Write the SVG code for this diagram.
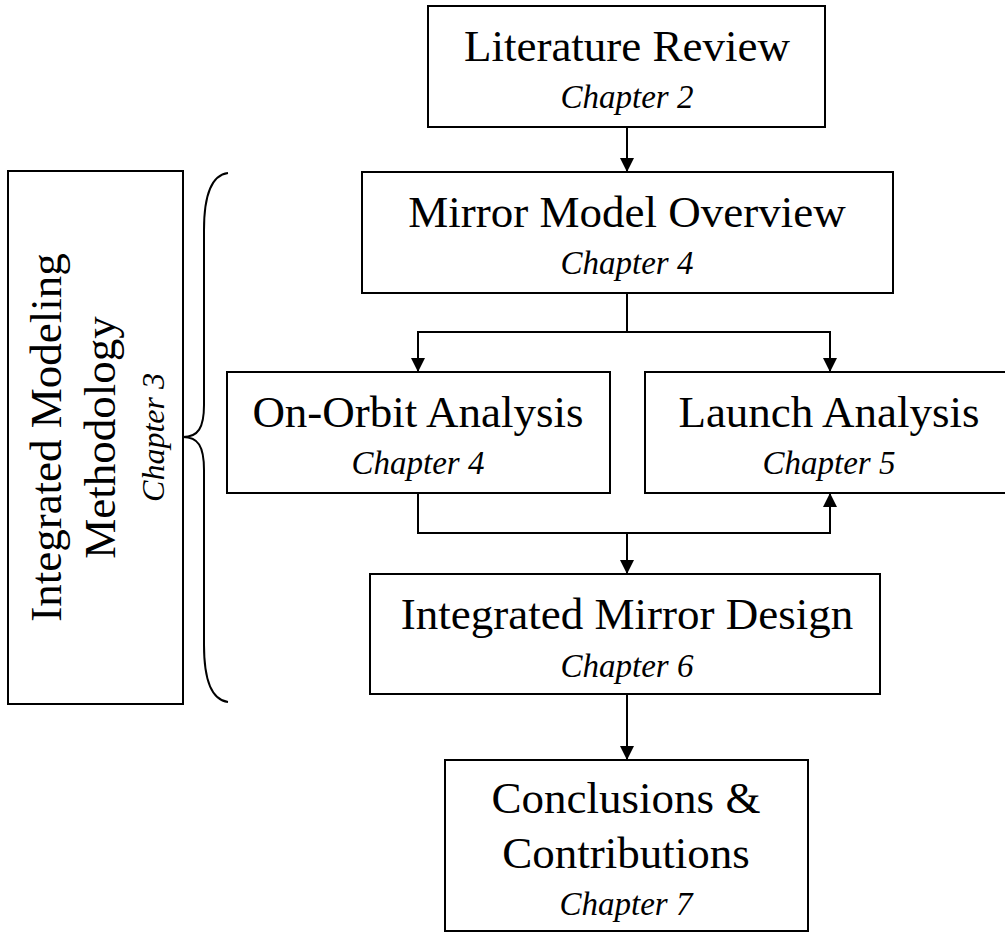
<svg xmlns="http://www.w3.org/2000/svg" width="1005" height="934" viewBox="0 0 1005 934">
<style>
.box{fill:#fff;stroke:#000;stroke-width:2}
.t{font-family:"Liberation Serif","Times New Roman",serif;font-size:45px;text-anchor:middle;fill:#000}
.c{font-family:"Liberation Serif","Times New Roman",serif;font-size:33px;font-style:italic;text-anchor:middle;fill:#000}
.ln{fill:none;stroke:#000;stroke-width:2}
</style>
<defs>
<marker id="ah" markerWidth="14" markerHeight="14" viewBox="0 0 14 14" refX="14" refY="7" orient="auto" markerUnits="userSpaceOnUse">
<path d="M0,0 L14,7 L0,14 Z" fill="#000"/>
</marker>
</defs>
<g id="connectors">
<path class="ln" d="M627,127 V172" marker-end="url(#ah)"/>
<path class="ln" d="M627,293 V332 H418 V372" marker-end="url(#ah)"/>
<path class="ln" d="M627,332 H830 V372" marker-end="url(#ah)"/>
<path class="ln" d="M418,493 V533 H830 V493" marker-end="url(#ah)"/>
<path class="ln" d="M627,533 V574" marker-end="url(#ah)"/>
<path class="ln" d="M627,694 V760" marker-end="url(#ah)"/>
</g>
<g id="literature">
<rect class="box" x="428" y="6" width="397" height="121"/>
<text class="t" x="627" y="61">Literature Review</text>
<text class="c" x="627" y="108">Chapter 2</text>
</g>
<g id="mirror-model">
<rect class="box" x="362" y="172" width="531" height="121"/>
<text class="t" x="627" y="227">Mirror Model Overview</text>
<text class="c" x="627" y="274">Chapter 4</text>
</g>
<g id="on-orbit">
<rect class="box" x="227" y="372" width="383" height="121"/>
<text class="t" x="418" y="427">On-Orbit Analysis</text>
<text class="c" x="418" y="474">Chapter 4</text>
</g>
<g id="launch">
<rect class="box" x="645" y="372" width="370" height="121"/>
<text class="t" x="829" y="427">Launch Analysis</text>
<text class="c" x="829" y="474">Chapter 5</text>
</g>
<g id="integrated-design">
<rect class="box" x="370" y="574" width="510" height="120"/>
<text class="t" x="627" y="629">Integrated Mirror Design</text>
<text class="c" x="627" y="677">Chapter 6</text>
</g>
<g id="conclusions">
<rect class="box" x="445" y="760" width="363" height="171"/>
<text class="t" x="626" y="813">Conclusions &amp;</text>
<text class="t" x="626" y="868">Contributions</text>
<text class="c" x="626" y="915">Chapter 7</text>
</g>
<g id="methodology">
<rect class="box" x="8" y="171" width="175" height="533"/>
<g transform="translate(95.5,437.5) rotate(-90)">
<text class="t" x="0" y="-34.5">Integrated Modeling</text>
<text class="t" x="0" y="19.5">Methodology</text>
<text class="c" x="0" y="68.5" style="font-size:32px">Chapter 3</text>
</g>
<path class="ln" d="M228,173 C212,175 204,195 204,230 V405 C204,428 198,437 183,437 C198,437 204,446 204,470 V645 C204,680 212,700 228,702"/>
</g>
</svg>
